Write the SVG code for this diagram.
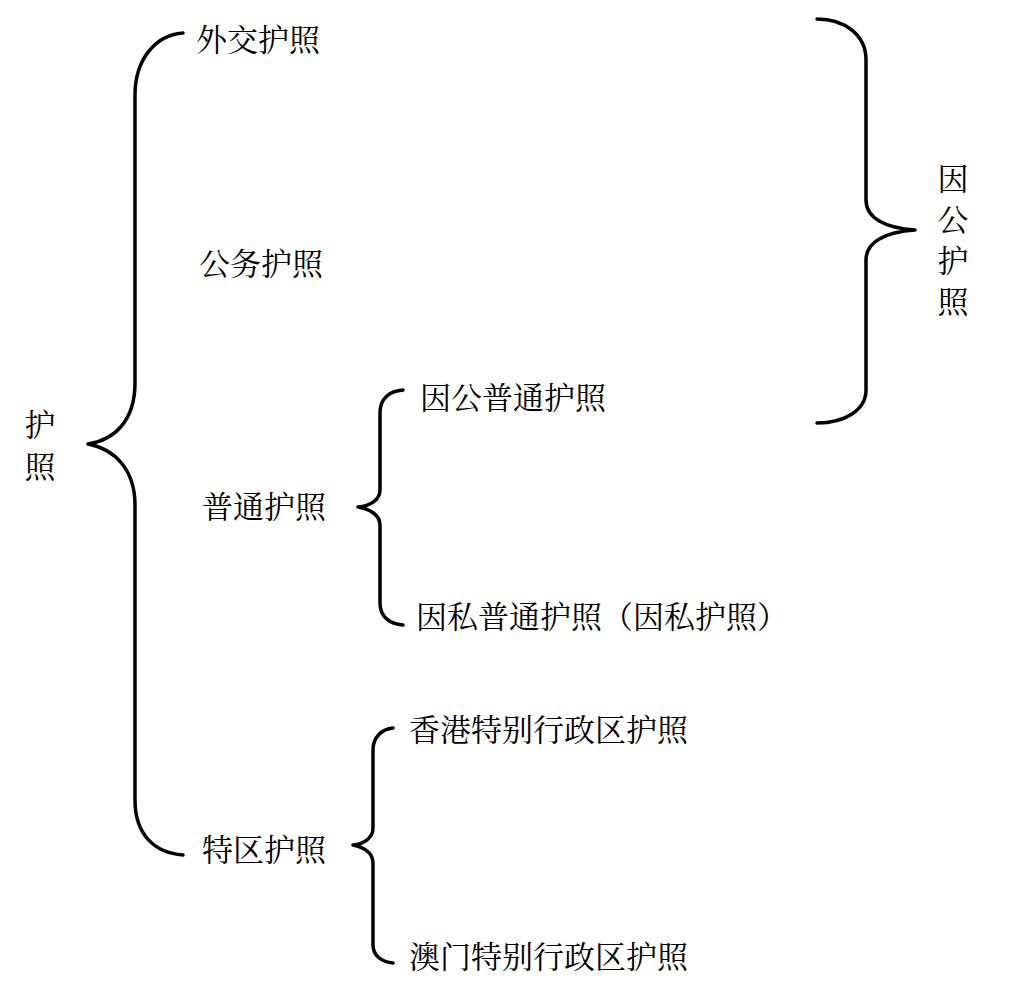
<svg xmlns="http://www.w3.org/2000/svg" width="1014" height="984" viewBox="0 0 1014 984">
<style>
.t{font-family:"Noto Serif CJK SC","Noto Sans CJK SC",serif;font-size:31px;fill:#000;}
.b{fill:none;stroke:#000;stroke-width:3.5;stroke-linecap:round;stroke-linejoin:round;}
</style>
<rect width="1014" height="984" fill="#fff"/>
<g id="connectors">
<path class="b" d="M183,33 C155,35 135,60 135,95 L135,383 C135,420 115,440 88,444 C115,449 135,470 135,505 L135,800 C135,835 155,853 183,855"/>
<path class="b" d="M403,390 C390,391 380,398 380,413 L380,490 C380,500 370,506 358,507 C370,509 380,515 380,525 L380,603 C380,617 390,624 403,625"/>
<path class="b" d="M393,728 C382,729 373,737 373,750 L373,828 C373,838 364,844 353,845 C364,847 373,853 373,863 L373,945 C373,956 382,962 393,963"/>
<path class="b" d="M817,19 C845,19 866,35 866,60 L866,200 C866,218 885,228 915,230 C885,232 866,242 866,260 L866,390 C866,410 845,423 817,423"/>
</g>
<g id="root"><text class="t" x="40" y="436" text-anchor="middle">护</text><text class="t" x="40" y="478" text-anchor="middle">照</text></g>
<g id="diplomatic"><text class="t" x="196" y="51">外交护照</text></g>
<g id="service"><text class="t" x="199" y="275">公务护照</text></g>
<g id="ordinary"><text class="t" x="202" y="518">普通护照</text></g>
<g id="sar"><text class="t" x="202" y="861">特区护照</text></g>
<g id="public-ordinary"><text class="t" x="420" y="409">因公普通护照</text></g>
<g id="private-ordinary"><text class="t" x="416" y="628">因私普通护照（因私护照）</text></g>
<g id="hk"><text class="t" x="409" y="741">香港特别行政区护照</text></g>
<g id="macau"><text class="t" x="409" y="968">澳门特别行政区护照</text></g>
<g id="public"><text class="t" x="953" y="190" text-anchor="middle">因</text><text class="t" x="953" y="231" text-anchor="middle">公</text><text class="t" x="953" y="272" text-anchor="middle">护</text><text class="t" x="953" y="313" text-anchor="middle">照</text></g>
</svg>
